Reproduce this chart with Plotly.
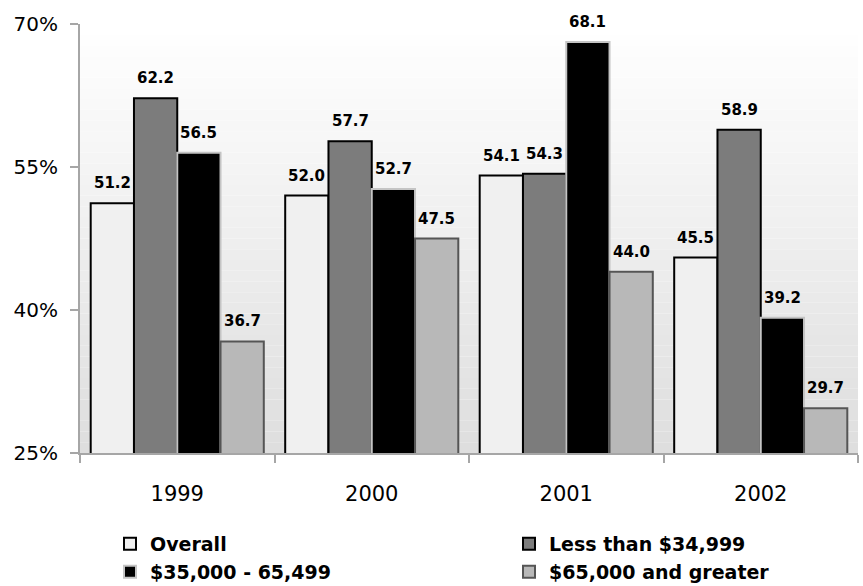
import plotly.graph_objects as go

years = ["1999", "2000", "2001", "2002"]
series_names = ["Overall", "Less than $34,999", "$35,000 - 65,499", "$65,000 and greater"]
overall = [51.2, 52.0, 54.1, 45.5]
less_35k = [62.2, 57.7, 54.3, 58.9]
mid_35_65k = [56.5, 52.7, 68.1, 39.2]
over_65k = [36.7, 47.5, 44.0, 29.7]
y_ticks = [25, 40, 55, 70]
y_tick_labels = ["25%", "40%", "55%", "70%"]

values = [overall, less_35k, mid_35_65k, over_65k]
fills = ["#f0f0f0", "#7c7c7c", "#000000", "#b8b8b8"]
outlines = ["#000000", "#000000", "#c4c4c4", "#555555"]
legend_ids = ["legend", "legend2", "legend3", "legend4"]
# legend placement (container pixels): left edge, top edge
legend_pos = [(110, 525), (509, 525), (110, 553), (509, 553)]

FONT = "DejaVu Sans"
W, H = 863, 586
ML, MR, MT, MB = 80, 5, 24, 133
BARGAP = 0.11

fig = go.Figure()
for name, vals, fc, lc, lg in zip(series_names, values, fills, outlines, legend_ids):
    fig.add_trace(go.Bar(
        x=years, y=vals, name=name,
        marker=dict(color=fc, line=dict(color=lc, width=2)),
        legend=lg,
    ))

# value labels above bars, offset within each group (x given as category index)
n_series = len(values)
cat_px = (W - ML - MR) / len(years)
bar_px = cat_px * (1 - BARGAP) / n_series
for i, vals in enumerate(values):
    for j, v in enumerate(vals):
        fig.add_annotation(
            x=j, y=v, xref="x", yref="y", text=f"{v:.1f}", showarrow=False,
            xshift=(i - (n_series - 1) / 2) * bar_px, yshift=9, yanchor="bottom",
            font=dict(family=FONT, size=15, color="#000000", weight="bold"),
        )

# plot-area vertical background gradient (white top -> light grey bottom)
n = 40
for i in range(n):
    t = i / (n - 1)
    c = int(round(255 - (255 - 222) * (1 - t)))
    fig.add_shape(type="rect", xref="paper", yref="paper",
                  x0=0, x1=1, y0=i / n, y1=(i + 1) / n,
                  fillcolor=f"rgb({c},{c},{c})", line=dict(width=0), layer="below")

leg_font = dict(family=FONT, size=19, weight="bold")
legend_layouts = {}
for lg, (px, py) in zip(legend_ids, legend_pos):
    legend_layouts[lg] = dict(
        orientation="v", xref="container", yref="container",
        x=px / W, xanchor="left", y=1 - py / H, yanchor="top",
        font=leg_font, bgcolor="rgba(0,0,0,0)", borderwidth=0)

fig.update_layout(
    width=W, height=H,
    margin=dict(l=ML, r=MR, t=MT, b=MB, autoexpand=False),
    paper_bgcolor="white", plot_bgcolor="white",
    barmode="group", bargap=BARGAP, bargroupgap=0,
    font=dict(family=FONT, color="#000000"),
    showlegend=True,
    **legend_layouts,
    xaxis=dict(type="category", range=[-0.5, len(years) - 0.5],
               showline=True, linecolor="#a6a6a6", linewidth=2, automargin=False,
               ticks="outside", tickson="boundaries", ticklen=8, tickcolor="#a6a6a6", tickwidth=2,
               ticklabelstandoff=21,
               tickfont=dict(family=FONT, size=21, color="#000000"), showgrid=False),
    yaxis=dict(range=[25, 70], tickvals=y_ticks, ticktext=y_tick_labels, automargin=False,
               showline=True, linecolor="#a6a6a6", linewidth=2,
               ticks="outside", ticklen=8, tickcolor="#a6a6a6", tickwidth=2,
               ticklabelstandoff=8,
               tickfont=dict(family=FONT, size=20, color="#000000"),
               showgrid=False, zeroline=False),
)

fig.write_html("out.html", config={"displayModeBar": False},
               post_script="document.body.style.margin='0';")
